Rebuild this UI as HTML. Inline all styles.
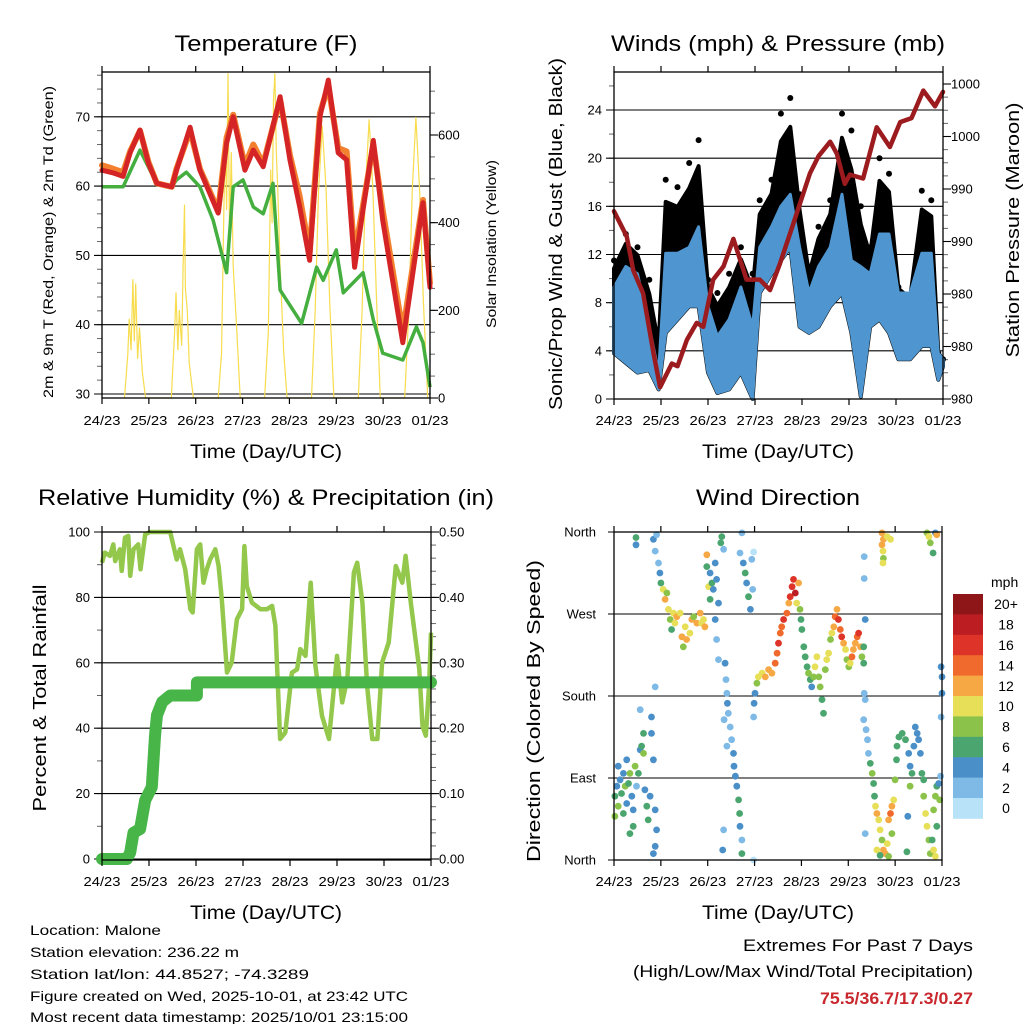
<!DOCTYPE html>
<html><head><meta charset="utf-8"><style>
html,body{margin:0;padding:0;background:#fff;}
svg{display:block;font-family:"Liberation Sans",sans-serif;}
</style></head><body>
<svg id="fig" xmlns="http://www.w3.org/2000/svg" width="1024" height="1024" viewBox="0 0 1024 1024">
<g id="g1"></g>
<g id="g2"></g>
<g id="g3"></g>
<g id="g4"></g>
<g font-size="14" fill="#000">
<text x="30" y="935" textLength="131" lengthAdjust="spacingAndGlyphs">Location: Malone</text>
<text x="30" y="957" textLength="209" lengthAdjust="spacingAndGlyphs">Station elevation: 236.22 m</text>
<text x="30" y="979" textLength="279" lengthAdjust="spacingAndGlyphs">Station lat/lon: 44.8527; -74.3289</text>
<text x="30" y="1001" textLength="378" lengthAdjust="spacingAndGlyphs">Figure created on Wed, 2025-10-01, at 23:42 UTC</text>
<text x="30" y="1022" textLength="378" lengthAdjust="spacingAndGlyphs">Most recent data timestamp: 2025/10/01 23:15:00</text>
</g>
<g font-size="17">
<text x="973" y="951" text-anchor="end" textLength="230" lengthAdjust="spacingAndGlyphs">Extremes For Past 7 Days</text>
<text x="973" y="977" text-anchor="end" textLength="340" lengthAdjust="spacingAndGlyphs">(High/Low/Max Wind/Total Precipitation)</text>
<text x="973" y="1004" text-anchor="end" font-weight="bold" fill="#c8282e" textLength="153" lengthAdjust="spacingAndGlyphs">75.5/36.7/17.3/0.27</text>
</g>
</svg>
<script>
// ---------- data ----------
const dayLabels = ["24/23","25/23","26/23","27/23","28/23","29/23","30/23","01/23"];
// Temperature panel
const tempT = [0,0.24,0.45,0.6,0.81,0.99,1.17,1.49,1.59,1.88,2.09,2.48,2.66,2.8,3.05,3.23,3.44,3.8,4.01,4.22,4.43,4.65,4.83,5.04,5.22,5.39,5.79,5.99,6.42,6.85,7.0];
const temp2m = [62.3,61.9,61.4,64.8,68.1,63.3,60.4,59.9,62.3,68.5,62.3,56.1,66.2,70,62.3,65.2,62.8,72.9,63.8,57,49.3,70,75.3,64.8,63.8,48.3,66.6,55.1,37.4,57.6,45.4];
const temp9m = [63,62.5,62,65,68,63.5,60.4,59.9,62.5,68,62.5,56.5,67,70.3,63,66,63.2,72.5,64.5,58.5,50.5,70.5,74.5,65.5,65,50,66,56.5,39,58,46];
const dewT = [0,0.45,0.81,1.17,1.49,1.59,1.8,2.09,2.37,2.66,2.8,3.01,3.23,3.44,3.65,3.8,4.26,4.58,4.72,5.0,5.15,5.57,5.79,5.99,6.42,6.71,6.85,7.0];
const dewV = [59.9,59.9,65.2,60.3,59.9,60.9,62,59.9,55.1,47.5,59.9,60.9,57,56,60.4,45,40.2,48.3,46.4,50.8,44.6,47.5,40.7,35.9,34.9,39.7,37.4,31];
const solarT = [0.48,0.55,0.58,0.62,0.66,0.69,0.72,0.76,0.8,0.86,0.93, 1.48,1.55,1.58,1.62,1.65,1.7,1.73,1.76,1.78,1.82,1.86,1.95, 2.48,2.55,2.6,2.63,2.66,2.69,2.72,2.76,2.8,2.88,2.95, 3.47,3.55,3.6,3.63,3.66,3.69,3.72,3.75,3.8,3.88,3.95, 4.47,4.55,4.62,4.7,4.78,4.86,4.95, 5.47,5.55,5.62,5.7,5.78,5.86,5.94, 6.46,6.55,6.62,6.7,6.78,6.86,6.95];
const solarV = [0,100,180,110,270,130,260,90,160,60,0, 0,150,240,110,200,120,300,440,250,200,80,0, 0,100,420,600,430,740,380,560,300,150,0, 0,150,520,400,680,740,560,480,300,100,0, 0,200,470,620,480,220,0, 0,200,470,635,480,220,0, 0,200,470,640,470,220,0];
const tempTicks = [30,40,50,60,70];
const solarTicks = [0,200,400,600];
// Winds panel
const windT = [0,0.25,0.5,0.75,0.95,1.1,1.35,1.6,1.8,2.0,2.2,2.45,2.7,2.95,3.1,3.35,3.55,3.75,3.95,4.15,4.35,4.6,4.85,5.05,5.25,5.45,5.65,5.85,6.05,6.3,6.55,6.75,6.9,7.0];
const windLow = [3.8,3,2.2,2.4,0.8,5.5,6.6,7.7,7.7,2.2,0.5,0.8,2.2,0,8.8,10.4,11.5,12.6,6,5.5,6,7.7,8.8,5.5,0.2,6,6.6,5.5,3.3,3.3,4.4,4.4,1.6,2.7];
const windHigh = [9.3,11,10.4,6,2.2,12.1,12.1,12.6,14.3,7.7,5.2,6.6,9.3,6,12.6,14.3,16,17,12.6,8.8,11,12.6,17,11.5,11,10.4,13.7,13.7,8.8,8.8,12.1,12.1,3.8,3.3];
const gustHigh = [11.5,13.7,12.6,9.9,5.5,18.2,17.6,19.6,21.5,9.9,8.8,10.4,12.6,10.4,16.5,18.2,23.7,25,17,11,14.3,16.5,23.7,22.3,16,12.6,20,18.7,9.3,8.2,17.3,16.5,3.8,3.3];
const presT = [0,0.27,0.41,0.62,0.84,0.98,1.23,1.35,1.55,1.76,1.9,2.11,2.33,2.54,2.82,3.1,3.32,3.53,3.82,4.17,4.35,4.6,4.74,4.91,5.02,5.3,5.59,5.87,6.09,6.33,6.58,6.83,7.0];
const presV = [990.3,988.4,985.8,984.05,979.5,976.9,978.7,978.5,980.5,981.8,981.5,985.1,986.1,988.2,985.1,985.1,984.3,986.3,989.4,993.2,994.5,995.6,994.7,992.4,993.1,992.8,996.7,995.2,997.1,997.4,999.5,998.3,999.4];
const windTicks = [0,4,8,12,16,20,24];
const presTicks = [976,980,984,988,992,996,1000];
// Humidity panel
const rhT = [0,0.06,0.17,0.24,0.28,0.38,0.42,0.49,0.56,0.6,0.67,0.77,0.82,0.92,1.02,1.45,1.59,1.66,1.77,1.88,1.93,2.02,2.09,2.16,2.23,2.3,2.41,2.48,2.55,2.66,2.76,2.87,2.98,3.03,3.08,3.19,3.37,3.51,3.62,3.69,3.79,3.9,4.04,4.15,4.22,4.33,4.44,4.54,4.68,4.83,5.0,5.11,5.22,5.36,5.43,5.54,5.64,5.75,5.86,5.96,6.1,6.25,6.39,6.46,6.57,6.75,6.82,6.89,6.96,7.0];
const rhV = [90.6,93.7,92.7,96.2,91.1,94.7,88.1,98.3,98.8,86.6,94.7,96.2,88.6,99.3,100,100,91.6,94.7,88.6,76.4,75.4,94.7,96.2,84.5,88.6,91.6,94.7,89.6,79.4,57,60.1,73.3,76.4,95.7,83.5,78.4,76.4,76.4,77.4,71.3,36.7,38.7,57,58,64.2,62.1,84.5,59.1,43.8,36.7,62.1,47.9,55,87.6,90.6,78.4,53,36.7,36.7,60.1,66.2,89.6,84.5,92.7,78.4,58,40.7,37.7,53,69.2];
const prT = [0,0.53,0.6,0.67,0.81,0.92,1.06,1.13,1.17,1.28,1.45,2.02,2.02,7.0];
const prV = [0,0,0.01,0.04,0.046,0.09,0.11,0.19,0.22,0.24,0.25,0.25,0.27,0.27];
const rhTicks = [0,20,40,60,80,100];
const prTicks = [0,0.1,0.2,0.3,0.4,0.5];
// Wind direction panel
const dirT = [0.02,0.06,0.09,0.13,0.16,0.20,0.24,0.27,0.27,0.31,0.34,0.38,0.41,0.45,0.48,0.52,0.56,0.56,0.59,0.63,0.63,0.66,0.70,0.73,0.77,0.80,0.80,0.84,0.88,0.91,0.88,0.84,0.09,0.20,0.34,0.02,0.41,0.88,
0.47,0.47,0.84,0.91,0.88,0.95,0.98,1.00,1.05,1.09,1.13,1.16,1.20,1.23,1.27,1.30,1.34,1.41,1.45,1.48,1.52,1.55,1.62,1.66,1.70,1.77,1.84,1.87,1.91,1.94,1.98,1.98,2.02,2.05,2.05,2.09,2.12,2.16,2.19,2.23,2.16,2.19,2.23,2.30,2.28,2.34,
2.37,2.39,2.41,2.42,2.44,2.48,2.51,2.55,2.56,2.59,2.62,2.66,2.68,2.69,2.73,2.73,2.34,2.32,2.35,2.41,
2.69,2.73,2.76,2.80,2.83,2.87,2.91,2.94,2.96,2.98,2.98,
2.98,2.99,3.01,3.05,3.08,3.16,3.23,3.30,3.37,3.44,3.48,3.51,3.55,3.58,3.62,3.69,3.73,3.76,3.80,3.83,3.87,3.90,3.94,3.97,3.99,4.01,4.05,4.08,4.12,4.15,4.19,4.22,4.26,4.29,4.33,4.37,4.40,4.44,4.47,4.51,4.54,4.58,4.62,4.65,4.69,4.72,4.76,4.79,4.83,4.86,4.90,4.94,4.97,5.01,5.04,5.08,5.11,5.15,5.19,5.22,5.26,5.29,5.33,5.33,5.36,5.34,5.34,5.34,5.36,
5.33,5.38,5.41,5.43,5.47,5.51,5.54,5.56,5.58,5.61,5.65,5.68,5.72,5.75,5.79,5.83,5.86,5.90,5.93,5.97,5.93,5.86,5.36,5.61,5.68,5.72,5.75,5.72,5.74,5.75,5.74,5.83,5.90,6.27,6.25,
6.00,6.03,6.04,6.08,6.15,6.22,6.29,6.32,6.36,6.40,6.43,6.47,6.50,6.54,6.57,6.61,6.65,6.68,6.72,6.75,6.79,6.82,6.86,6.89,6.93,6.97,6.95,6.89,6.82,6.86,6.68,6.72,6.75,6.81,6.86,6.89,6.98,7.00,7.00,6.98,6.32,6.61];
const dirV = [70,81,59,88,73,95,81,110,62,84,95,70,55,103,81,95,121,165,125,117,139,77,59,44,70,157,139,110,55,33,15,7,103,51,29,48,37,190,
354,346,352,357,339,326,315,304,297,286,293,275,264,253,271,260,267,271,245,234,256,242,249,264,267,260,271,260,264,256,335,322,300,315,286,304,297,326,308,282,264,242,220,355,348,341,
216,198,183,172,161,146,132,117,103,92,81,66,51,37,22,7,33,11,154,125,
337,359,326,315,304,289,275,330,297,338,0,
157,172,183,194,201,205,201,209,205,216,227,238,249,256,264,271,282,289,300,308,293,282,304,275,264,253,234,223,212,205,198,190,201,212,223,201,190,176,161,209,220,227,242,249,256,267,275,264,253,245,238,231,220,212,216,223,231,238,245,249,234,223,234,216,264,333,309,183,176,
154,143,132,117,106,95,84,70,59,51,44,33,22,11,7,18,44,51,59,66,29,4,29,11,5,359,352,346,339,331,326,355,352,48,9,
88,110,125,135,139,132,117,103,95,125,146,139,132,117,95,70,51,37,22,7,22,55,70,81,84,92,66,37,11,4,359,355,348,337,359,357,212,201,183,157,81,88];
const dirSpd = [6,5,9,5,7,4,8,5,5,7,9,4,5,8,3,6,4,3,7,9,6,4,7,6,5,4,4,5,4,4,4,4,5,7,6,9,6,3,
6,4,4,3,3,3,4,6,10,12,9,10,8,7,10,11,12,10,12,8,11,13,10,12,9,13,12,11,10,12,13,6,10,4,6,6,5,4,5,4,4,3,3,7,6,2,
4,3,3,4,3,3,3,4,4,5,4,6,6,4,3,6,2,4,2,2,
3,2,4,6,5,7,5,2,3,1,1,
3,4,5,8,10,11,12,12,13,14,15,16,15,14,16,15,13,16,17,16,18,10,12,8,6,7,6,7,7,9,6,4,8,10,10,9,8,7,6,9,10,10,8,11,12,14,13,16,15,16,12,10,9,8,10,14,12,13,14,16,12,8,7,6,4,3,3,3,2,
3,3,2,2,6,8,6,6,10,12,10,11,8,12,12,10,12,14,12,10,9,8,3,11,7,12,12,13,10,8,10,10,10,4,6,
8,6,7,6,6,6,5,4,6,4,4,4,4,5,6,8,10,11,8,9,6,8,9,6,5,2,8,6,11,10,8,11,8,6,4,12,4,4,4,2,8,6];
const dirLabels = ["North","East","South","West","North"];
const speedBins = ["0","2","4","6","8","10","12","14","16","18","20+"];
const speedColors = ["#b7e2f8","#7fbae6","#4a8fc8","#4aa66e","#8bc34a","#e6df57","#f6a845","#ef6a2c","#dd3328","#bb1d23","#8e1619"];

// ---------- helpers ----------
const NS = "http://www.w3.org/2000/svg";
function mk(parent, tag, attrs, text){
  const e = document.createElementNS(NS, tag);
  for (const k in attrs) e.setAttribute(k, attrs[k]);
  if (text !== undefined) e.textContent = text;
  parent.appendChild(e);
  return e;
}
function lin(d0,d1,r0,r1){ return v => r0 + (v-d0)*(r1-r0)/(d1-d0); }
function pathFrom(ts, vs, sx, sy){
  let d = "";
  for (let i=0;i<ts.length;i++) d += (i?"L":"M") + sx(ts[i]).toFixed(1) + "," + sy(vs[i]).toFixed(1);
  return d;
}
function frame(g, x0, x1, y0, y1){
  const r = mk(g,"rect",{x:x0,y:y0,width:x1-x0,height:y1-y0,fill:"none",stroke:"#000","stroke-width":1.3});
  
  
}
function xAxis(g, x0, x1, y0, y1, labelY){
  const sx = lin(0,7,x0,x1);
  for (let i=0;i<dayLabels.length;i++){
    const x = sx(i);
    mk(g,"line",{x1:x,x2:x,y1:y1,y2:y1+6,stroke:"#000","stroke-width":1.2});
    mk(g,"line",{x1:x,x2:x,y1:y0,y2:y0-6,stroke:"#000","stroke-width":1.2});
    const t = mk(g,"text",{x:x,y:labelY,"text-anchor":"middle","font-size":13,textLength:37,lengthAdjust:"spacingAndGlyphs"},dayLabels[i]);
    
    
  }
  return sx;
}
function title(g, x, y, txt, len, name, size){
  const t = mk(g,"text",{x:x,y:y,"text-anchor":"middle","font-size":size||22,textLength:len,lengthAdjust:"spacingAndGlyphs"},txt);
  
  
}
function vtitle(g, x, y, txt, len, name, size){
  const t = mk(g,"text",{x:0,y:0,"text-anchor":"middle","font-size":size,textLength:len,lengthAdjust:"spacingAndGlyphs",transform:`translate(${x},${y}) rotate(-90)`},txt);
  
  
}
function gridAndLeft(g, ticks, sy, x0, x1, fmt, minorStep, minorMin, minorMax){
  for (let v=minorMin; v<=minorMax+1e-9; v+=minorStep){
    const y = sy(v);
    mk(g,"line",{x1:x0-5,x2:x0,y1:y,y2:y,stroke:"#666","stroke-width":1});
  }
  ticks.forEach(v=>{
    const y = sy(v);
    const l = mk(g,"line",{x1:x0-8,x2:x1,y1:y,y2:y,stroke:"#000","stroke-width":1.1});
    
    
    const t = mk(g,"text",{x:x0-12,y:y+4.5,"text-anchor":"end","font-size":13},fmt(v));
    
    
  });
}
function rightAxis(g, ticks, sy, x1, fmt, minorStep, minorMin, minorMax){
  for (let v=minorMin; v<=minorMax+1e-9; v+=minorStep){
    const y = sy(v);
    mk(g,"line",{x1:x1,x2:x1+5,y1:y,y2:y,stroke:"#666","stroke-width":1});
  }
  ticks.forEach(v=>{
    const y = sy(v);
    mk(g,"line",{x1:x1,x2:x1+8,y1:y,y2:y,stroke:"#000","stroke-width":1.1});
    const t = mk(g,"text",{x:x1+8,y:y+4.5,"font-size":13},fmt(v));
    
    
  });
}

// ---------- Panel 1: Temperature ----------
(function(){
  const g = document.getElementById("g1");
  const x0=102,x1=430,y0=72,y1=398;
  const sy = lin(30,70,394,116.8);
  const ss = lin(0,600,398,135);
  const sx = lin(0,7,x0,x1);
  gridAndLeft(g,tempTicks,sy,x0,x1,v=>String(v),2,30,76);
  rightAxis(g,solarTicks,ss,x1,v=>String(v),50,0,700);
  const sol = mk(g,"path",{d:pathFrom(solarT,solarV,sx,ss),fill:"none",stroke:"#f7dc4d","stroke-width":1.2,"stroke-linejoin":"round"});
  
  
  const dew = mk(g,"path",{d:pathFrom(dewT,dewV,sx,sy),fill:"none",stroke:"#44ae3f","stroke-width":3.5,"stroke-linejoin":"round"});
  
  
  const t9 = mk(g,"path",{d:pathFrom(tempT,temp9m,sx,sy),fill:"none",stroke:"#f3802f","stroke-width":6,"stroke-linejoin":"round","stroke-linecap":"round"});
  
  
  const t2 = mk(g,"path",{d:pathFrom(tempT,temp2m,sx,sy),fill:"none",stroke:"#d42426","stroke-width":5,"stroke-linejoin":"round","stroke-linecap":"round"});
  
  
  frame(g,x0,x1,y0,y1);
  xAxis(g,x0,x1,y0,y1,425);
  title(g,266,51,"Temperature (F)",183,"temperature-title");
  title(g,266,458,"Time (Day/UTC)",152,"temperature-x-title",19);
  vtitle(g,53,242,"2m & 9m T (Red, Orange) & 2m Td (Green)",312,"temperature-y-title",14);
  vtitle(g,496,244,"Solar Insolation (Yellow)",168,"solar-y-title",14);
})();

// ---------- Panel 2: Winds & Pressure ----------
(function(){
  const g = document.getElementById("g2");
  const x0=614,x1=943,y0=72,y1=399;
  const sy = lin(0,24,399,110);
  const sp = lin(976,1000,399,84);
  const sx = lin(0,7,x0,x1);
  gridAndLeft(g,windTicks,sy,x0,x1,v=>String(v),2,0,26);
  rightAxis(g,presTicks,sp,x1,v=>String(Math.round(v/10)*10),1,976,1000);
  // dense gust region: solid up to 70% between wind high and gust high, dots at gust peaks
  let d="";
  for (let i=0;i<windT.length;i++) d += (i?"L":"M")+sx(windT[i]).toFixed(1)+","+sy(windHigh[i]+0.7*(gustHigh[i]-windHigh[i])).toFixed(1);
  for (let i=windT.length-1;i>=0;i--) d += "L"+sx(windT[i]).toFixed(1)+","+sy(windLow[i]).toFixed(1);
  const gb = mk(g,"path",{d:d+"Z",fill:"#000",stroke:"#000","stroke-width":4,"stroke-linejoin":"round"});
  
  
  for (let i=0;i<windT.length;i++){
    const c = mk(g,"circle",{cx:sx(windT[i]).toFixed(1),cy:sy(gustHigh[i]).toFixed(1),r:3,fill:"#000"});
    
    
  }
  let d2="";
  for (let i=0;i<windT.length;i++) d2 += (i?"L":"M")+sx(windT[i]).toFixed(1)+","+sy(windHigh[i]).toFixed(1);
  for (let i=windT.length-1;i>=0;i--) d2 += "L"+sx(windT[i]).toFixed(1)+","+sy(windLow[i]).toFixed(1);
  const wb = mk(g,"path",{d:d2+"Z",fill:"#4f96d0",stroke:"#4f96d0","stroke-width":3,"stroke-linejoin":"round"});
  
  
  const pl = mk(g,"path",{d:pathFrom(presT,presV,sx,sp),fill:"none",stroke:"#9b1b1e","stroke-width":4.5,"stroke-linejoin":"round","stroke-linecap":"round"});
  
  
  frame(g,x0,x1,y0,y1);
  xAxis(g,x0,x1,y0,y1,425);
  title(g,778,51,"Winds (mph) & Pressure (mb)",334,"winds-title");
  title(g,778,458,"Time (Day/UTC)",152,"winds-x-title",19);
  vtitle(g,562,234,"Sonic/Prop Wind & Gust (Blue, Black)",352,"wind-y-title",18);
  vtitle(g,1019,230,"Station Pressure (Maroon)",255,"pressure-y-title",18);
})();

// ---------- Panel 3: RH & Precip ----------
(function(){
  const g = document.getElementById("g3");
  const x0=102,x1=431,y0=532,y1=860;
  const sy = lin(0,100,859,532);
  const sp = lin(0,0.5,859,532);
  const sx = lin(0,7,x0,x1);
  gridAndLeft(g,rhTicks,sy,x0,x1,v=>String(v),10,0,100);
  rightAxis(g,prTicks,sp,x1,v=>v.toFixed(2),0.02,0,0.5);
  const rh = mk(g,"path",{d:pathFrom(rhT,rhV,sx,sy),fill:"none",stroke:"#93c84c","stroke-width":4.5,"stroke-linejoin":"round"});
  
  
  const pr = mk(g,"path",{d:pathFrom(prT,prV,sx,sp),fill:"none",stroke:"#47b548","stroke-width":12,"stroke-linejoin":"round","stroke-linecap":"round"});
  
  
  frame(g,x0,x1,y0,y1);
  xAxis(g,x0,x1,y0,y1,886);
  title(g,266,505,"Relative Humidity (%) & Precipitation (in)",456,"humidity-title");
  title(g,266,919,"Time (Day/UTC)",152,"humidity-x-title",19);
  vtitle(g,46,698,"Percent & Total Rainfall",227,"humidity-y-title",18);
})();

// ---------- Panel 4: Wind direction ----------
(function(){
  const g = document.getElementById("g4");
  const x0=614,x1=942,y0=532,y1=860;
  const sy = lin(0,360,860,532);
  const sx = lin(0,7,x0,x1);
  dirLabels.forEach((lab,i)=>{
    const y = sy(i*90);
    const l = mk(g,"line",{x1:x0-6,x2:x1,y1:y,y2:y,stroke:"#000","stroke-width":1.1});
    
    
    const t = mk(g,"text",{x:x0-18,y:y+4.5,"text-anchor":"end","font-size":13},lab);
    
    
  });
  for (let i=0;i<dirT.length;i++){
    const bin = Math.min(10, Math.floor(dirSpd[i]/2));
    const c = mk(g,"circle",{cx:sx(dirT[i]).toFixed(1),cy:sy(dirV[i]).toFixed(1),r:3.4,fill:speedColors[bin]});
    
    
  }
  frame(g,x0,x1,y0,y1);
  xAxis(g,x0,x1,y0,y1,886);
  title(g,778,505,"Wind Direction",164,"direction-title");
  title(g,778,919,"Time (Day/UTC)",152,"direction-x-title",19);
  vtitle(g,540,711,"Direction (Colored By Speed)",302,"direction-y-title",18);
  const cb = mk(g,"g",{});
  
  
  const top=594, h=20.4;
  for (let k=0;k<speedBins.length;k++){
    const idx = speedBins.length-1-k;
    mk(cb,"rect",{x:953,y:top+k*h,width:30,height:h+0.4,fill:speedColors[idx]});
    const t = mk(cb,"text",{x:1006,y:top+k*h+h/2+5,"text-anchor":"middle","font-size":14},speedBins[idx]);
    
    
  }
  const u = mk(cb,"text",{x:991,y:587,"font-size":14},"mph");
  
  
})();
</script>
</body></html>
